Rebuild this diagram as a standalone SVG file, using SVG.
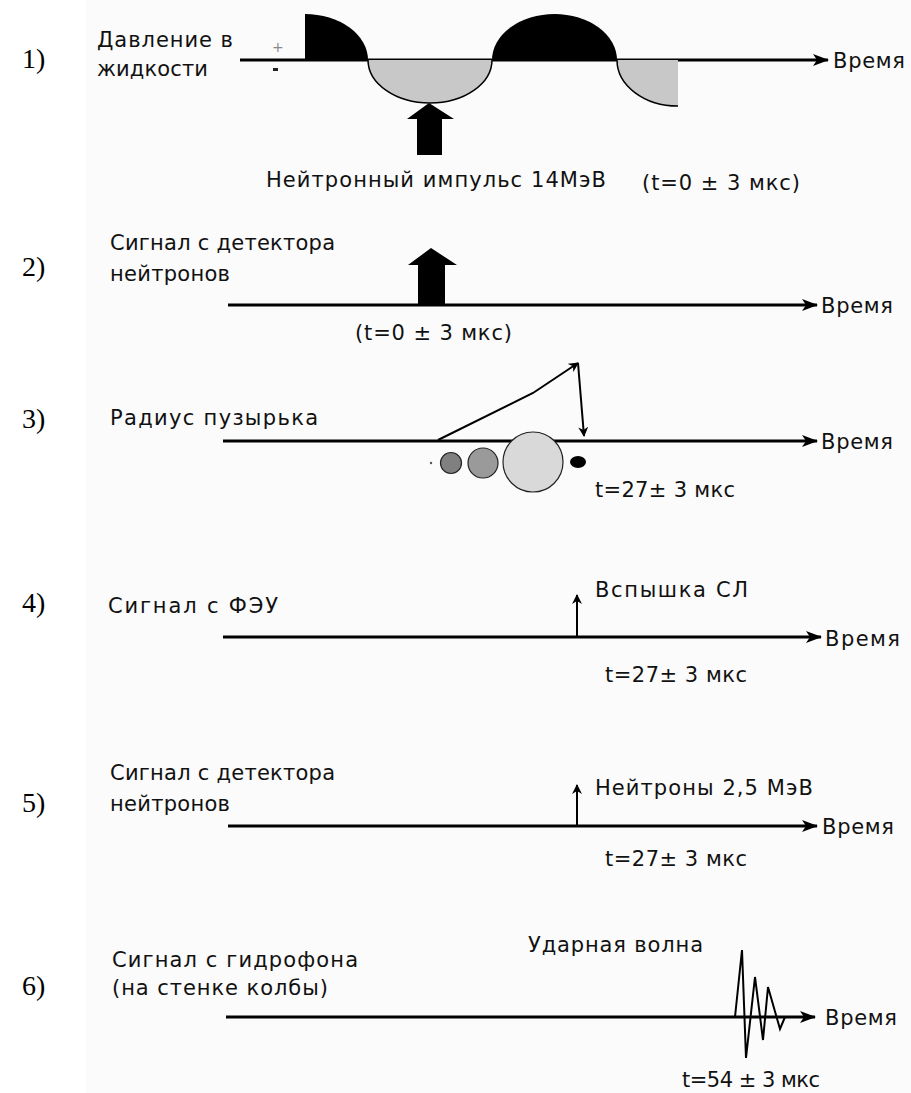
<svg xmlns="http://www.w3.org/2000/svg" width="911" height="1093" viewBox="0 0 911 1093">
<defs>
<style>
.t{font-family:"DejaVu Sans","Liberation Sans",sans-serif;font-size:21px;fill:#111}
.n{font-family:"Liberation Serif","Times New Roman",serif;font-size:28px;fill:#000}
.ax{stroke:#000;stroke-width:3;fill:none}
.thin{stroke:#000;stroke-width:2;fill:none}
</style>
<marker id="ah" viewBox="0 0 16 12" refX="15" refY="6" markerWidth="16" markerHeight="12" markerUnits="userSpaceOnUse" orient="auto">
<path d="M0,0 L16,6 L0,12 L4,6 Z" fill="#000"/>
</marker>
<marker id="sh" viewBox="0 0 10 10" refX="9" refY="5" markerWidth="10" markerHeight="10" markerUnits="userSpaceOnUse" orient="auto">
<path d="M0,0 L10,5 L0,10 L3,5 Z" fill="#000"/>
</marker>
</defs>
<rect x="0" y="0" width="911" height="1093" fill="#fff"/>
<rect x="86" y="0" width="825" height="1093" fill="#fbfbfb"/>

<g id="connectors">
<line class="ax" x1="240" y1="60" x2="828" y2="60" marker-end="url(#ah)"/>
<line class="ax" x1="228" y1="305" x2="817" y2="305" marker-end="url(#ah)"/>
<line class="ax" x1="223" y1="441" x2="817" y2="441" marker-end="url(#ah)"/>
<line class="ax" x1="223" y1="637" x2="821" y2="637" marker-end="url(#ah)"/>
<line class="ax" x1="228" y1="826" x2="817" y2="826" marker-end="url(#ah)"/>
<line class="ax" x1="226" y1="1017" x2="815" y2="1017" marker-end="url(#ah)"/>
</g>

<g id="row1">
<text class="n" x="22" y="68">1)</text>
<text class="t" x="97" y="47" textLength="136" lengthAdjust="spacing">Давление в</text>
<text class="t" x="97" y="76" textLength="111" lengthAdjust="spacing">жидкости</text>
<text x="272" y="52" font-family="DejaVu Sans, sans-serif" font-size="14" fill="#888">+</text>
<rect x="273" y="68" width="5" height="3" fill="#222"/>
<path d="M305,60 L305,14 A63,46 0 0 1 368,60 Z" fill="#000"/>
<path d="M368,60 A62,43 0 0 0 492,60" fill="#c8c8c8" stroke="#000" stroke-width="1.5"/>
<path d="M492,60 A62.5,46 0 0 1 617,60 Z" fill="#000"/>
<path d="M678,60 L678,106 A61,46 0 0 1 617,60 Z" fill="#c8c8c8"/>
<path d="M617,60 A61,46 0 0 0 678,106" fill="none" stroke="#000" stroke-width="1.5"/>
<path d="M417,155 L417,119 L407,119 L429,103 L454,119 L442,119 L442,155 Z" fill="#000"/>
<text class="t" x="266" y="187" textLength="340" lengthAdjust="spacing">Нейтронный импульс 14МэВ</text>
<text class="t" x="642" y="190" textLength="158" lengthAdjust="spacing">(t=0 ± 3 мкс)</text>
<text class="t" x="833" y="68" textLength="72" lengthAdjust="spacing">Время</text>
</g>

<g id="row2">
<text class="n" x="22" y="276">2)</text>
<text class="t" x="110" y="250" textLength="225" lengthAdjust="spacing">Сигнал с детектора</text>
<text class="t" x="110" y="281" textLength="120" lengthAdjust="spacing">нейтронов</text>
<path d="M418,305 L418,265 L408,265 L431,248 L457,265 L445,265 L445,305 Z" fill="#000"/>
<text class="t" x="355" y="340" textLength="157" lengthAdjust="spacing">(t=0 ± 3 мкс)</text>
<text class="t" x="821" y="313" textLength="72" lengthAdjust="spacing">Время</text>
</g>

<g id="row3">
<text class="n" x="22" y="428">3)</text>
<text class="t" x="110" y="425" textLength="208" lengthAdjust="spacing">Радиус пузырька</text>
<polyline class="thin" points="438,440 533,393 578,363" marker-end="url(#sh)"/>
<line class="thin" x1="578" y1="363" x2="584" y2="436" marker-end="url(#sh)"/>
<circle cx="431" cy="463" r="1.2" fill="#555"/>
<circle cx="451" cy="463" r="10.5" fill="#808080" stroke="#222" stroke-width="1.2"/>
<circle cx="483" cy="463" r="15" fill="#9a9a9a" stroke="#222" stroke-width="1.2"/>
<circle cx="533" cy="462" r="30" fill="#d9d9d9" stroke="#222" stroke-width="1.2"/>
<ellipse cx="578" cy="462" rx="8" ry="6" fill="#000"/>
<text class="t" x="595" y="497" textLength="140" lengthAdjust="spacing">t=27± 3 мкс</text>
<text class="t" x="821" y="449" textLength="72" lengthAdjust="spacing">Время</text>
</g>

<g id="row4">
<text class="n" x="22" y="612">4)</text>
<text class="t" x="108" y="613" textLength="170" lengthAdjust="spacing">Сигнал с ФЭУ</text>
<line class="thin" x1="577" y1="637" x2="577" y2="595" stroke-width="3" marker-end="url(#sh)"/>
<text class="t" x="595" y="597" textLength="153" lengthAdjust="spacing">Вспышка СЛ</text>
<text class="t" x="605" y="682" textLength="142" lengthAdjust="spacing">t=27± 3 мкс</text>
<text class="t" x="825" y="646" textLength="75" lengthAdjust="spacing">Время</text>
</g>

<g id="row5">
<text class="n" x="22" y="812">5)</text>
<text class="t" x="110" y="780" textLength="225" lengthAdjust="spacing">Сигнал с детектора</text>
<text class="t" x="110" y="811" textLength="120" lengthAdjust="spacing">нейтронов</text>
<line class="thin" x1="577" y1="826" x2="577" y2="785" stroke-width="3" marker-end="url(#sh)"/>
<text class="t" x="595" y="795" textLength="218" lengthAdjust="spacing">Нейтроны 2,5 МэВ</text>
<text class="t" x="605" y="866" textLength="142" lengthAdjust="spacing">t=27± 3 мкс</text>
<text class="t" x="822" y="834" textLength="72" lengthAdjust="spacing">Время</text>
</g>

<g id="row6">
<text class="n" x="22" y="995">6)</text>
<text class="t" x="112" y="967" textLength="246" lengthAdjust="spacing">Сигнал с гидрофона</text>
<text class="t" x="112" y="995" textLength="216" lengthAdjust="spacing">(на стенке колбы)</text>
<text class="t" x="528" y="952" textLength="175" lengthAdjust="spacing">Ударная волна</text>
<polyline points="735,1017 742,950 746,1058 755,977 763,1040 768,987 780,1029 785,1017" fill="none" stroke="#000" stroke-width="2" stroke-linejoin="miter"/>
<text class="t" x="682" y="1087" textLength="138" lengthAdjust="spacing">t=54 ± 3 мкс</text>
<text class="t" x="825" y="1025" textLength="72" lengthAdjust="spacing">Время</text>
</g>
</svg>
